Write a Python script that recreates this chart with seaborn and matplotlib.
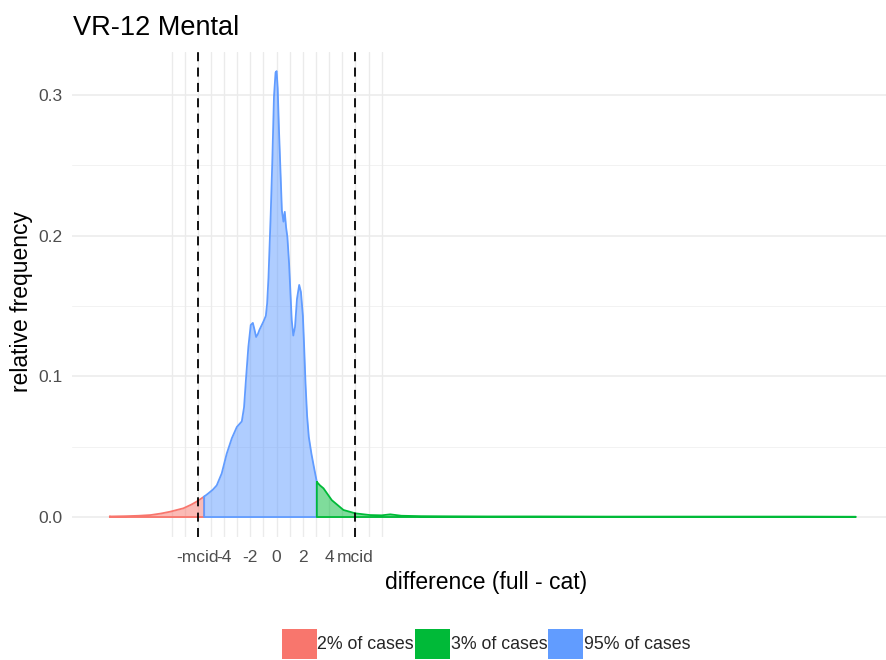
import numpy as np
import pandas as pd
import matplotlib
matplotlib.use("Agg")
import matplotlib.pyplot as plt
from matplotlib.patches import Patch
import seaborn as sns

# Density of score differences, split into three shaded regions
red_x = [-12.7, -11.5, -10.5, -9.6, -8.8, -8.1, -7.1, -6.5, -6.1, -5.52]
red_y = [0.0004, 0.0006, 0.0009, 0.0014, 0.0025, 0.0038, 0.0062, 0.0088, 0.0109, 0.0145]

blue_x = [-5.52, -5.2, -4.85, -4.56, -4.18, -3.8, -3.41, -3.03, -2.65, -2.48,
          -2.32, -2.15, -1.97, -1.81, -1.68, -1.56, -1.43, -1.31, -1.0, -0.82,
          -0.72, -0.62, -0.45, -0.33, -0.2, -0.08, 0.0, 0.08, 0.18, 0.27,
          0.4, 0.52, 0.62, 0.72, 0.82, 0.95, 1.05, 1.15, 1.27, 1.4,
          1.55, 1.72, 1.85, 2.0, 2.1, 2.2, 2.32, 2.45, 2.65, 2.83, 3.06]
blue_y = [0.0145, 0.0168, 0.0195, 0.0225, 0.031, 0.045, 0.056, 0.064, 0.068, 0.078,
          0.0997, 0.121, 0.1365, 0.138, 0.133, 0.128, 0.130, 0.133, 0.139, 0.143,
          0.152, 0.170, 0.215, 0.252, 0.299, 0.316, 0.317, 0.305, 0.275, 0.252,
          0.218, 0.210, 0.217, 0.206, 0.199, 0.180, 0.160, 0.140, 0.129, 0.135,
          0.155, 0.165, 0.160, 0.143, 0.120, 0.095, 0.072, 0.057, 0.045, 0.036, 0.025]

green_x = [3.06, 3.3, 3.57, 4.2, 5.09, 6.0, 7.1, 8.0, 8.65, 9.5,
           11, 13, 16, 20, 25, 30, 35, 40, 44.1]
green_y = [0.025, 0.0225, 0.0204, 0.012, 0.005, 0.0026, 0.0014, 0.0012, 0.0019, 0.0009,
           0.0006, 0.0005, 0.0004, 0.0004, 0.0003, 0.0003, 0.0003, 0.0003, 0.0002]

region_labels = ["2% of cases", "3% of cases", "95% of cases"]
region_colors = ["#F8766D", "#00BA38", "#619CFF"]

mcid = 6.0
x_ticks = [-mcid, -4, -2, 0, 2, 4, mcid]
x_tick_labels = ["-mcid", "-4", "-2", "0", "2", "4", "mcid"]
y_ticks = [0.0, 0.1, 0.2, 0.3]
y_tick_labels = ["0.0", "0.1", "0.2", "0.3"]

sns.set_theme(style="white")
plt.rcParams["font.family"] = ["Liberation Sans", "DejaVu Sans"]

W, H = 886, 660
fig = plt.figure(figsize=(W / 100, H / 100), dpi=100)
ax = fig.add_axes([72 / W, 1 - 537 / H, (886 - 72) / W, (537 - 52) / H])
ax.set_xlim(-15.58, 46.4)
ax.set_ylim(-0.0142, 0.3306)

# light grid: horizontal major/minor, vertical at every unit around zero
for yv in y_ticks:
    ax.axhline(yv, color="#EBEBEB", lw=1.1, zorder=0)
for yv in [0.05, 0.15, 0.25]:
    ax.axhline(yv, color="#F2F2F2", lw=0.7, zorder=0)
for xv in np.arange(-8, 9):
    ax.axvline(xv, color="#EBEBEB", lw=1.0, zorder=0)

# red, blue, green regions: translucent fill with a full outline
regions = [
    (red_x, red_y, region_colors[0]),
    (blue_x, blue_y, region_colors[2]),
    (green_x, green_y, region_colors[1]),
]
for rx, ry, col in regions:
    xs = np.asarray(rx, dtype=float)
    ys = np.asarray(ry, dtype=float)
    ax.fill_between(xs, 0, ys, color=col, alpha=0.5, lw=0, zorder=2)
    ox = np.concatenate([xs, [xs[-1], xs[0], xs[0]]])
    oy = np.concatenate([ys, [0.0, 0.0, ys[0]]])
    sns.lineplot(x=ox, y=oy, sort=False, estimator=None, color=col,
                 lw=1.3, ax=ax, zorder=3)

for xv in (-mcid, mcid):
    ax.axvline(xv, color="black", lw=1.3, dashes=(5, 3.5), zorder=4)

ax.set_xticks(x_ticks)
ax.set_xticklabels(x_tick_labels)
ax.set_yticks(y_ticks)
ax.set_yticklabels(y_tick_labels)
ax.tick_params(axis="both", length=0, labelsize=12.5, labelcolor="#4D4D4D")
ax.tick_params(axis="x", pad=9.5)
ax.tick_params(axis="y", pad=7)
ax.set_xlabel("")
ax.set_ylabel("")
for sp in ax.spines.values():
    sp.set_visible(False)

fig.text(73 / W, 1 - 35 / H, "VR-12 Mental", fontsize=19.5, color="black",
         ha="left", va="baseline")
fig.text(486 / W, 1 - 583 / H, "difference (full - cat)", fontsize=16.5,
         color="black", ha="center", va="center")
fig.text(22 / W, 1 - 302 / H, "relative frequency", fontsize=16.5,
         color="black", ha="center", va="center", rotation=90)

handles = [Patch(facecolor=c, edgecolor="none", label=l)
           for c, l in zip(region_colors, region_labels)]
fig.legend(handles=handles, loc="upper center",
           bbox_to_anchor=(486 / W, 1 - 629 / H), ncol=3, frameon=False,
           fontsize=12.8, handlelength=1.95, handleheight=2.2,
           handletextpad=0.05, columnspacing=0.05, borderpad=0,
           borderaxespad=0)

fig.savefig("out.png", dpi=100)
